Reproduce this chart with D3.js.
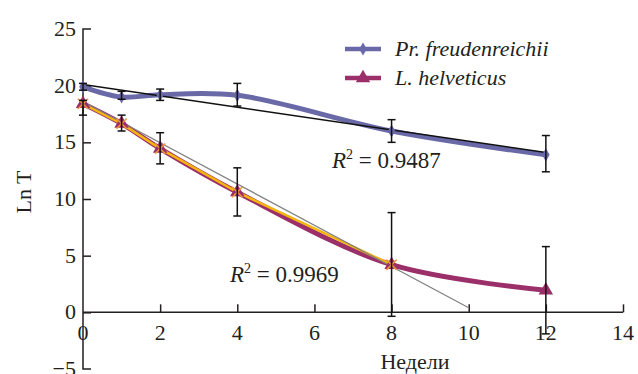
<!DOCTYPE html>
<html><head><meta charset="utf-8">
<script src="https://cdn.jsdelivr.net/npm/d3@7"></script>
<style>
@font-face{font-family:"RefSerif";src:local("Liberation Serif"),local("LiberationSerif"),local("Tinos"),local("Times New Roman");font-style:normal;}
@font-face{font-family:"RefSerif";src:local("Liberation Serif Italic"),local("LiberationSerif-Italic"),local("Tinos Italic");font-style:italic;}
svg text, svg tspan{font-family:"Liberation Serif","RefSerif",Tinos,"Times New Roman",serif !important;}
</style>
</head><body style="margin:0">
<svg id="c" width="638" height="374" font-family="Liberation Serif, serif"></svg>
<script>
const weeks = [0, 1, 2, 4, 8, 12];
const prValues = [19.9, 19.0, 19.2, 19.15, 16.0, 13.9];
const prErrHi = [20.2, 19.5, 19.7, 20.2, 17.0, 15.6];
const prErrLo = [19.6, 18.8, 18.7, 18.2, 15.0, 12.4];
const lhValues = [18.4, 16.65, 14.45, 10.6, 4.2, 1.95];
const lhErrHi = [18.7, 17.4, 15.85, 12.75, 8.8, 5.8];
const lhErrLo = [17.4, 16.0, 13.1, 8.5, -0.35, -1.9];
const lhFitWeeks = [0, 1, 2, 4, 8];
const prTrend = [[0, 20.1], [12, 14.1]];
const lhTrend = [[0, 18.6], [10, 0.4]];
const xTicks = [0, 2, 4, 6, 8, 10, 12, 14];
const yTicks = [-5, 0, 5, 10, 15, 20, 25];
const legendLabels = ["Pr. freudenreichii", "L. helveticus"];
const r2Labels = ["0.9487", "0.9969"];

const TXT = "#231f20";
const svg = d3.select("#c");
const x = d3.scaleLinear().domain([0, 14]).range([83, 623]);
const y = d3.scaleLinear().domain([-5, 25]).range([369, 29]);
const axisCol = "#231f20";
function addText(parent, s) {
  return parent.append("text").attr("font-family", "Liberation Serif, serif").attr("fill", TXT).attr("font-size", s);
}

// y axis
const yAxis = d3.axisRight(y).tickValues(yTicks).tickSize(8).tickFormat("");
const gy = svg.append("g").attr("transform", `translate(${x(0)},0)`).call(yAxis).attr("font-family", null);
gy.select(".domain").attr("stroke", axisCol).attr("stroke-width", 1.5).attr("d", `M8,${y(-5)}H0V${y(25)}H8`);
gy.selectAll(".tick line").attr("stroke", axisCol).attr("stroke-width", 1.5);
gy.selectAll(".tick").filter(d => d === -5 || d === 25).select("line").remove();
gy.selectAll(".tick text").remove();

const labels = svg.append("g");
yTicks.forEach(d => {
  addText(labels, 22).attr("x", x(0) - 7).attr("y", y(d) + 7).attr("text-anchor", "end")
    .text(d < 0 ? "\u2212" + Math.abs(d) : String(d));
});

// x axis
const xAxis = d3.axisTop(x).tickValues(xTicks.filter(d => d > 0)).tickSize(8).tickFormat("");
const gx = svg.append("g").attr("transform", `translate(0,${y(0)})`).call(xAxis).attr("font-family", null);
gx.select(".domain").attr("stroke", axisCol).attr("stroke-width", 1.5).attr("d", `M${x(0)},0H${x(14)}`);
gx.selectAll(".tick line").attr("stroke", axisCol).attr("stroke-width", 1.5);
gx.selectAll(".tick text").remove();
xTicks.forEach(d => {
  addText(labels, 22).attr("x", x(d)).attr("y", y(0) + 28).attr("text-anchor", "middle").text(String(d));
});

// axis titles
addText(svg, 22).attr("x", 415).attr("y", 369).attr("text-anchor", "middle").text("Недели");
addText(svg, 22).attr("transform", "translate(31,192) rotate(-90)").attr("text-anchor", "middle").text("Ln T");

const purple = "#6a69a8", magenta = "#9b2f69", gold = "#f5b50f", orange = "#f0963a";

// series curves
const line = d3.line().x(d => x(d[0])).y(d => y(d[1]));
const smooth = d3.line().x(d => x(d[0])).y(d => y(d[1])).curve(d3.curveCatmullRom.alpha(0.5));
const prPts = weeks.map((w, i) => [w, prValues[i]]);
const lhPts = weeks.map((w, i) => [w, lhValues[i]]);

svg.append("path").attr("d", smooth(lhPts)).attr("fill", "none").attr("stroke", magenta).attr("stroke-width", 5);
svg.append("path").attr("d", line(lhFitWeeks.map(w => [w, lhValues[weeks.indexOf(w)]]))).attr("fill", "none").attr("stroke", gold).attr("stroke-width", 2.5);
svg.append("path").attr("d", smooth(prPts)).attr("fill", "none").attr("stroke", purple).attr("stroke-width", 5);

// trend lines
svg.append("path").attr("d", line(lhTrend)).attr("fill", "none").attr("stroke", "#808080").attr("stroke-width", 1.2);
svg.append("path").attr("d", line(prTrend)).attr("fill", "none").attr("stroke", "#111").attr("stroke-width", 1.5);

// markers
const diamond = d3.symbol().type(d3.symbolDiamond).size(50);
const tri = d3.symbol().type(d3.symbolTriangle).size(90);
svg.append("g").selectAll("path").data(prPts).join("path")
  .attr("transform", d => `translate(${x(d[0])},${y(d[1])})`).attr("d", diamond).attr("fill", purple);
svg.append("g").selectAll("path").data(lhPts).join("path")
  .attr("transform", d => `translate(${x(d[0])},${y(d[1])})`).attr("d", tri).attr("fill", magenta);
const cross = d3.symbol().type(d3.symbolX).size(70);
svg.append("g").selectAll("path").data(lhPts.slice(0, 5)).join("path")
  .attr("transform", d => `translate(${x(d[0])},${y(d[1])})`).attr("d", cross).attr("fill", "none").attr("stroke", orange).attr("stroke-width", 1.5);

// error bars
function errBars(lo, hi) {
  const g = svg.append("g").attr("stroke", "#111").attr("stroke-width", 1.5);
  weeks.forEach((w, i) => {
    const cx = x(w);
    g.append("line").attr("x1", cx).attr("x2", cx).attr("y1", y(lo[i])).attr("y2", y(hi[i]));
    g.append("line").attr("x1", cx - 4).attr("x2", cx + 4).attr("y1", y(lo[i])).attr("y2", y(lo[i]));
    g.append("line").attr("x1", cx - 4).attr("x2", cx + 4).attr("y1", y(hi[i])).attr("y2", y(hi[i]));
  });
}
errBars(prErrLo, prErrHi);
errBars(lhErrLo, lhErrHi);

// legend
const leg = svg.append("g");
[[purple, diamond, 49], [magenta, tri, 78]].forEach((s, i) => {
  leg.append("line").attr("x1", 345).attr("x2", 381).attr("y1", s[2]).attr("y2", s[2]).attr("stroke", s[0]).attr("stroke-width", 4.5);
  leg.append("path").attr("transform", `translate(363,${s[2]})`).attr("d", s[1]).attr("fill", s[0]);
  addText(leg, 22).attr("x", 395).attr("y", s[2] + 7).attr("font-style", "italic").text(legendLabels[i]);
});

// R² labels
function r2(xp, yp, val) {
  const t = addText(svg, 23).attr("x", xp).attr("y", yp);
  t.append("tspan").attr("font-style", "italic").text("R");
  t.append("tspan").attr("font-size", 14).attr("dy", -9).text("2");
  t.append("tspan").attr("dy", 9).text(" = " + val);
}
r2(332, 168, r2Labels[0]);
r2(230, 282, r2Labels[1]);
</script>
</body></html>
